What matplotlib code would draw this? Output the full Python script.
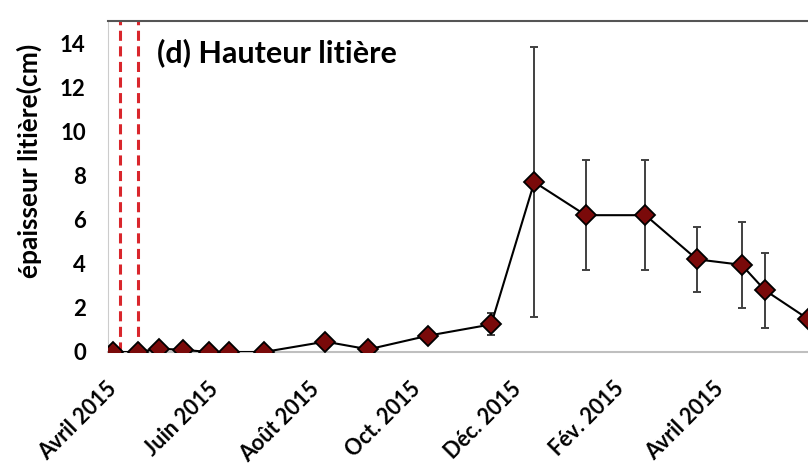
import numpy as np
import matplotlib
matplotlib.use("Agg")
import matplotlib.pyplot as plt
import matplotlib.dates as mdates
from datetime import date

plt.rcParams['font.family'] = ['Lato', 'DejaVu Sans']

# dates des relevés et hauteur moyenne de litière (cm)
dates = [date(2015, 4, 1), date(2015, 4, 16), date(2015, 4, 29), date(2015, 5, 13),
         date(2015, 5, 29), date(2015, 6, 10), date(2015, 7, 1), date(2015, 8, 7),
         date(2015, 9, 2), date(2015, 10, 8), date(2015, 11, 15), date(2015, 12, 11),
         date(2016, 1, 11), date(2016, 2, 16), date(2016, 3, 18), date(2016, 4, 14),
         date(2016, 4, 28), date(2016, 5, 24)]
hauteur = [0, 0, 0.15, 0.1, 0, 0, 0, 0.47, 0.12, 0.74, 1.25, 7.7,
           6.2, 6.2, 4.2, 3.95, 2.8, 1.5]
erreur = [0, 0, 0, 0, 0, 0, 0, 0, 0, 0, 0.5, 6.1,
          2.5, 2.5, 1.47, 1.95, 1.7, 0]

# traitements (lignes pointillées rouges)
traitements = [date(2015, 4, 5), date(2015, 4, 16)]

ticks = [date(2015, 4, 1), date(2015, 6, 1), date(2015, 8, 1), date(2015, 10, 1),
         date(2015, 12, 1), date(2016, 2, 1), date(2016, 4, 1)]
tick_labels = ['Avril 2015', 'Juin 2015', 'Août 2015', 'Oct. 2015',
               'Déc. 2015', 'Fév. 2015', 'Avril 2015']

fig = plt.figure(figsize=(8.08, 4.68), dpi=100)
ax = fig.add_axes([108 / 808, 116 / 468, 700 / 808, 331 / 468])

x = mdates.date2num(dates)

for t in traitements:
    ax.axvline(mdates.date2num(t), ymin=0, ymax=1, color='#d9262c', lw=2.2,
               dashes=(3.3, 1.8), zorder=1)

ax.errorbar(x, hauteur, yerr=erreur, fmt='none', ecolor='#404040', elinewidth=1.4,
            capsize=3, capthick=1.4, zorder=2)
ax.plot(x, hauteur, color='black', lw=1.5, marker='D', markersize=10,
        markerfacecolor='#7a0a0a', markeredgecolor='black', markeredgewidth=1.3,
        zorder=3)

ax.set_ylim(0, 15)
ax.set_yticks(np.arange(0, 15, 2))
ax.set_xlim(mdates.date2num(date(2015, 3, 29)), x[-1])

# étiquettes de dates inclinées, placées à la main sous chaque graduation
ax.set_xticks(mdates.date2num(ticks))
ax.set_xticklabels([])
for t, lab in zip(ticks, tick_labels):
    ax.annotate(lab, xy=(mdates.date2num(t), 0), xycoords=('data', 'axes fraction'),
                xytext=(-7, -26), textcoords='offset pixels', rotation=45,
                ha='right', va='top', rotation_mode='anchor',
                fontsize=15.5, fontweight='bold', annotation_clip=False)

for lab in ax.get_yticklabels():
    lab.set_fontsize(16)
    lab.set_fontweight('bold')

ax.tick_params(axis='both', length=0)
ax.tick_params(axis='y', pad=16)

ax.spines['right'].set_visible(False)
ax.spines['top'].set_color('#555555')
ax.spines['top'].set_linewidth(1.5)
ax.spines['left'].set_color('#cccccc')
ax.spines['bottom'].set_color('#bfbfbf')
ax.spines['bottom'].set_linewidth(1.5)

ax.set_ylabel('épaisseur litière(cm)', fontsize=19, fontweight='bold')
ax.yaxis.set_label_coords(-66 / 700, 0.577)
ax.text(0.07, 0.905, '(d) Hauteur litière', transform=ax.transAxes,
        fontsize=22, fontweight='bold', va='center')

fig.savefig('out.png', dpi=100)
